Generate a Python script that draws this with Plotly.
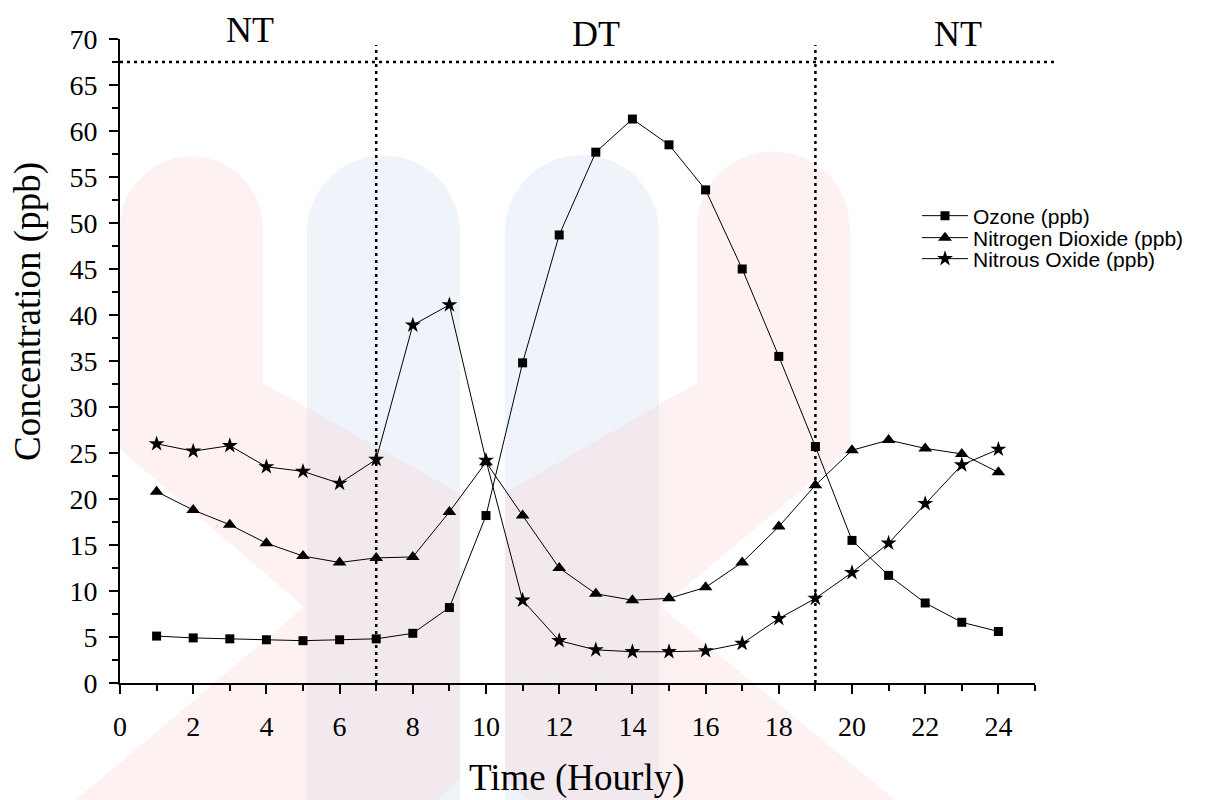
import plotly.graph_objects as go

# Hourly concentrations (ppb)
hours = list(range(1, 25))
ozone = [5.1, 4.9, 4.8, 4.7, 4.6, 4.7, 4.8, 5.4, 8.2, 18.2, 34.8, 48.7,
         57.7, 61.3, 58.5, 53.6, 45.0, 35.5, 25.7, 15.5, 11.7, 8.7, 6.6, 5.6]
nitrogen_dioxide = [20.8, 18.8, 17.2, 15.2, 13.8, 13.1, 13.6, 13.7, 18.6, 24.0, 18.2, 12.5,
                    9.7, 9.0, 9.2, 10.4, 13.1, 17.0, 21.5, 25.3, 26.4, 25.5, 24.9, 22.9]
nitrous_oxide = [26.0, 25.2, 25.8, 23.5, 23.0, 21.7, 24.3, 38.9, 41.1, 24.2, 9.0, 4.6,
                 3.6, 3.4, 3.4, 3.5, 4.3, 7.0, 9.2, 12.0, 15.2, 19.5, 23.7, 25.4]

series_names = ["Ozone (ppb)", "Nitrogen Dioxide (ppb)", "Nitrous Oxide (ppb)"]
series_symbols = ["square", "triangle-up", "star"]
series_sizes = [9, 12, 12]

# Day / night boundaries and period labels
boundaries = [7, 19]
period_labels = ["NT", "DT", "NT"]
period_x = [3.55, 13.0, 22.9]

W, H = 1223, 800
L, R, T, B = 120, 1035, 39, 683   # plot area in pixels


def px(x):
    return (x - L) / (R - L)


def py(y):
    return (B - y) / (B - T)


def path_from(cmds):
    """Build an SVG path in paper coordinates from pixel-space commands."""
    out = []
    for c in cmds:
        if c[0] == "Z":
            out.append("Z")
        else:
            pts = " ".join(f"{px(x):.5f},{py(y):.5f}" for x, y in c[1:])
            out.append(f"{c[0]} {pts}")
    return " ".join(out)


def round_top(x0, x1, yc):
    """Semicircular cap (cubic approximation) from (x0,yc) to (x1,yc)."""
    r = (x1 - x0) / 2
    cx = (x0 + x1) / 2
    k = 0.5523 * r
    return [("C", (x0, yc - k), (cx - k, yc - r), (cx, yc - r)),
            ("C", (cx + k, yc - r), (x1, yc - k), (x1, yc))]


pink = "rgba(248,205,205,0.27)"
blue = "rgba(205,222,238,0.32)"

shapes = []
# faint emblem in the background: two blue pillars crossed by a red X
for x0, x1 in [(307, 460), (505, 659)]:
    cmds = [("M", (x0, 232))] + round_top(x0, x1, 232) + [
        ("L", (x1, 800)), ("L", (x0, 800)), ("Z",)]
    shapes.append(dict(type="path", xref="paper", yref="paper", path=path_from(cmds),
                       fillcolor=blue, line=dict(width=0), layer="below"))
red_cmds = [("M", (120, 228))] + round_top(120, 263, 228) + [
    ("L", (263, 383)), ("L", (482, 506)), ("L", (697, 383)), ("L", (697, 228))
] + round_top(697, 850, 228) + [
    ("L", (850, 449)), ("L", (661, 607)), ("L", (850, 763)), ("L", (895, 800)),
    ("L", (528, 800)), ("L", (482, 760)), ("L", (437, 800)), ("L", (75, 800)),
    ("L", (120, 763)), ("L", (304, 607)), ("L", (120, 449)), ("Z",)
]
shapes.append(dict(type="path", xref="paper", yref="paper", path=path_from(red_cmds),
                   fillcolor=pink, line=dict(width=0), layer="below"))
shapes.append(dict(type="rect", xref="paper", yref="paper",
                   x0=px(460), x1=px(505), y0=py(800), y1=py(200),
                   fillcolor="white", line=dict(width=0), layer="below"))

# dotted period separators
dot = dict(color="black", width=2.5, dash="3px,4px")
for b in boundaries:
    shapes.append(dict(type="line", xref="x", yref="paper", x0=b, x1=b,
                       y0=0, y1=py(45), line=dot, layer="above"))
shapes.append(dict(type="line", xref="paper", yref="y", x0=0, x1=px(1055),
                   y0=67.5, y1=67.5, line=dot, layer="above"))

fig = go.Figure()
legend_ids = ["legend", "legend2", "legend3"]
for name, vals, sym, sz, lg in zip(series_names, [ozone, nitrogen_dioxide, nitrous_oxide],
                                   series_symbols, series_sizes, legend_ids):
    fig.add_trace(go.Scatter(
        x=hours, y=vals, name=name, mode="lines+markers",
        line=dict(color="black", width=1),
        marker=dict(symbol=sym, size=sz, color="black", line=dict(width=0)),
        cliponaxis=False, legend=lg,
    ))

serif = "Liberation Serif, Times New Roman, serif"
sans = "Liberation Sans, Arial, sans-serif"
annotations = []
for lab, xv, yp in zip(period_labels, period_x, [30, 34, 34]):
    annotations.append(dict(text=lab, x=xv, xref="x", y=py(yp), yref="paper",
                            showarrow=False, xanchor="center", yanchor="middle",
                            font=dict(family=serif, size=36, color="black")))
annotations.append(dict(text="Time (Hourly)", x=px(577), y=py(778), xref="paper", yref="paper",
                        showarrow=False, xanchor="center", yanchor="middle",
                        font=dict(family=serif, size=37, color="black")))
annotations.append(dict(text="Concentration (ppb)", x=px(28), y=py(312), xref="paper", yref="paper",
                        showarrow=False, xanchor="center", yanchor="middle", textangle=-90,
                        font=dict(family=serif, size=37, color="black")))

axis_common = dict(
    showgrid=False, zeroline=False, showline=True, linecolor="black", linewidth=2,
    ticks="outside", ticklen=9, tickwidth=2, tickcolor="black",
    tickfont=dict(family=serif, size=28, color="black"),
)


def legend_at(row_y):
    return dict(x=px(917), y=py(row_y), xanchor="left", yanchor="middle",
                bgcolor="rgba(0,0,0,0)", borderwidth=0, itemwidth=46,
                font=dict(family=sans, size=21, color="black"))


fig.update_layout(
    width=W, height=H,
    margin=dict(l=L, r=W - R, t=T, b=H - B, autoexpand=False),
    paper_bgcolor="white", plot_bgcolor="rgba(0,0,0,0)",
    showlegend=True,
    legend=legend_at(216),
    legend2=legend_at(238),
    legend3=legend_at(259),
    xaxis=dict(range=[0, 25], tick0=0, dtick=2, ticklabelstandoff=8,
               minor=dict(dtick=1, ticks="outside", ticklen=6, tickwidth=2, tickcolor="black"),
               **axis_common),
    yaxis=dict(range=[0, 70], tick0=0, dtick=5, ticklabelstandoff=6,
               minor=dict(dtick=2.5, ticks="outside", ticklen=6, tickwidth=2, tickcolor="black"),
               **axis_common),
    shapes=shapes,
    annotations=annotations,
)

fig.write_html("out.html")
